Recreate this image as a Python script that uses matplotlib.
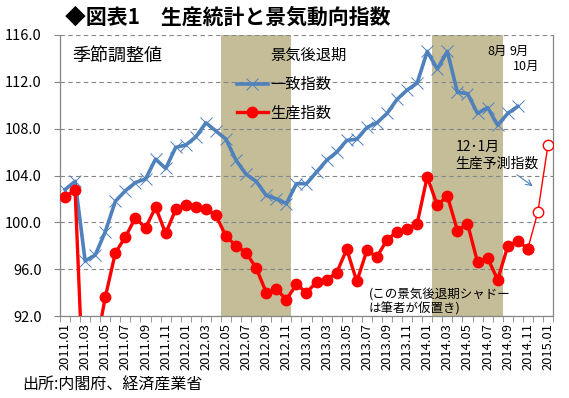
import matplotlib
matplotlib.use('Agg')
from matplotlib import pyplot as plt
from matplotlib.patches import Patch
from matplotlib.lines import Line2D

plt.rcParams['font.family'] = ['Noto Sans CJK JP', 'DejaVu Sans']

# 2011.01 .. 2015.01 monthly categories
months = [f'{y}.{m:02d}' for y in range(2011, 2015) for m in range(1, 13)] + ['2015.01']

# coincident index (一致指数), 2011.01 - 2014.10
coincident = [102.8, 103.5, 96.7, 97.2, 99.2, 101.8, 102.7, 103.4, 103.7, 105.4,
              104.6, 106.4, 106.6, 107.3, 108.5, 107.8, 107.1, 105.3, 104.1, 103.5,
              102.3, 102.0, 101.6, 103.3, 103.3, 104.3, 105.3, 106.0, 107.0, 107.1,
              108.1, 108.5, 109.3, 110.5, 111.3, 111.9, 114.6, 113.1, 114.6, 111.1,
              111.0, 109.3, 109.8, 108.3, 109.3, 109.9]

# industrial production index (生産指数), 2011.01 - 2014.11
production = [102.2, 102.75, 82.0, 89.0, 93.6, 97.4, 98.75, 100.4, 99.5, 101.3,
              99.05, 101.1, 101.45, 101.3, 101.1, 100.6, 98.8, 98.0, 97.4, 96.1,
              94.0, 94.3, 93.4, 94.7, 94.0, 94.9, 95.1, 95.7, 97.7, 94.95,
              97.6, 97.05, 98.5, 99.2, 99.45, 99.9, 103.9, 101.45, 102.25, 99.3,
              99.9, 96.6, 96.95, 95.1, 97.95, 98.4, 97.75]

# production forecast (生産予測指数), 2014.11 - 2015.01
forecast_start = 46
forecast = [97.75, 100.9, 106.6]

# recession shading (first/last category index)
recessions = [(16, 22), (37, 43)]

shade = '#C4BD97'
blue = '#4F81BD'
red = '#FF0000'
grey = '#868686'

fig = plt.figure(figsize=(5.69, 3.98), dpi=100)
ax = fig.add_axes([60/569, 1-316/398, 493/569, 281/398])

for a, b in recessions:
    ax.axvspan(a - 0.5, b + 0.5, color=shade, lw=0, zorder=0)

x_c = list(range(len(coincident)))
x_p = list(range(len(production)))
x_f = list(range(forecast_start, forecast_start + len(forecast)))

ax.plot(x_c, coincident, color=blue, lw=2.6, marker='x', ms=9, mew=0.7,
        mec=blue, zorder=3)
ax.plot(x_f, forecast, color=red, lw=1.0, marker='o', ms=7.5, mfc='white',
        mec=red, mew=1.0, zorder=3)
ax.plot(x_p, production, color=red, lw=2.4, marker='o', ms=7.5, mec=red,
        zorder=4)

ax.set_xlim(-0.5, len(months) - 0.5)
ax.set_ylim(92, 116)
ax.set_yticks(range(92, 117, 4))
ax.set_yticklabels([f'{v:.1f}' for v in range(92, 117, 4)])
ax.set_xticks(range(0, len(months), 2))
ax.set_xticklabels(months[::2], rotation=90)
ax.set_xticks([i - 0.5 for i in range(len(months) + 1)], minor=True)
ax.tick_params(axis='x', which='major', length=0, pad=5, labelsize=9.3)
ax.tick_params(axis='x', which='minor', length=4, color=grey, direction='out')
ax.tick_params(axis='y', length=4, color=grey, pad=9, labelsize=10.5)

ax.grid(axis='y', color=grey, ls=(0, (4, 3)), lw=0.8, zorder=1)
ax.set_axisbelow(True)
ax.spines['top'].set_visible(False)
for s in ['left', 'bottom', 'right']:
    ax.spines[s].set_color(grey)
    ax.spines[s].set_linewidth(0.9)

handles = [Patch(color=shade),
           Line2D([], [], color=blue, lw=2.6, marker='x', ms=9, mew=0.7),
           Line2D([], [], color=red, lw=2.4, marker='o', ms=7.5)]
ax.legend(handles, ['景気後退期', '一致指数', '生産指数'], loc='upper left',
          bbox_to_anchor=(237/569, 1-47/398), bbox_transform=fig.transFigure,
          frameon=False, fontsize=11, borderpad=0, borderaxespad=0,
          handlelength=2.0, handletextpad=0.2, labelspacing=0.78, numpoints=1)

ax.text(0.79, 114.2, '季節調整値', fontsize=13, va='center')
ax.text(41.95, 114.6, '8月', fontsize=9, va='center')
ax.text(44.2, 114.6, '9月', fontsize=9, va='center')
ax.text(44.5, 113.3, '10月', fontsize=9, va='center')
ax.text(38.8, 106.45, '12･1月', fontsize=10, va='center')
ax.text(38.8, 105.0, '生産予測指数', fontsize=10, va='center')
ax.text(30.2, 93.9, '(この景気後退期シャドー', fontsize=9, va='center')
ax.text(30.2, 92.6, 'は筆者が仮置き)', fontsize=9, va='center')
ax.annotate('', xy=(46.7, 102.95), xytext=(44.7, 104.2),
            arrowprops=dict(arrowstyle='->', color=blue, lw=0.8))

fig.text(65/569, 1-17/398, '◆図表1　生産統計と景気動向指数', fontsize=15,
         fontweight='bold', va='center')
fig.text(22/569, 1-385/398, '出所:内閣府、経済産業省', fontsize=11.5, va='center')

fig.savefig('out.png', dpi=100)
